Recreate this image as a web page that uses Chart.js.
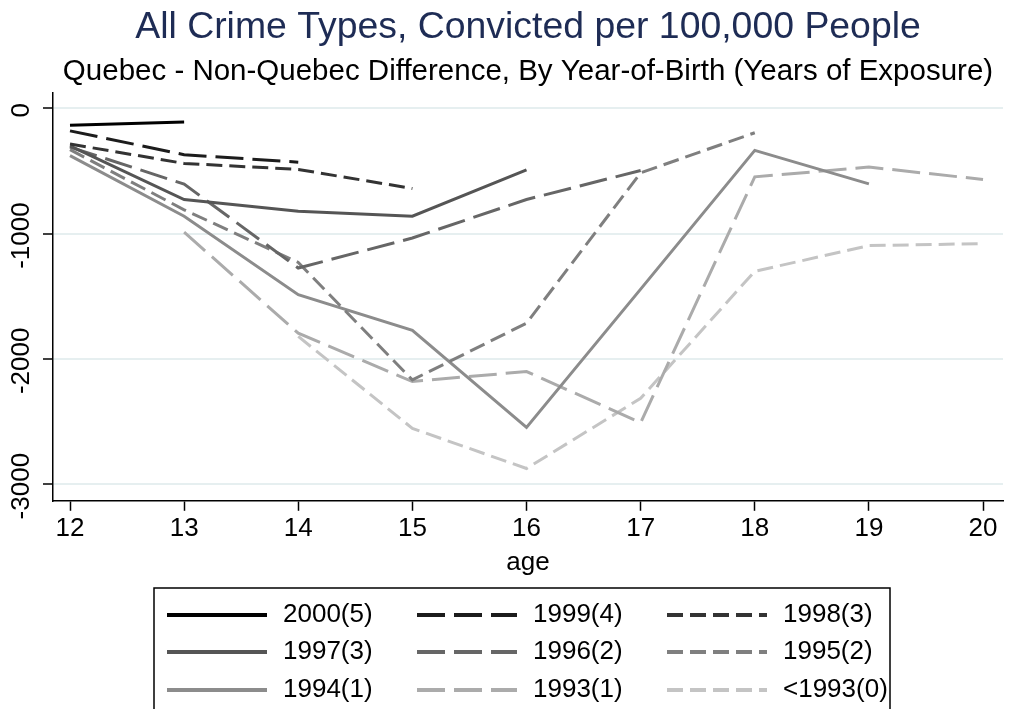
<!DOCTYPE html>
<html>
<head>
<meta charset="utf-8">
<title>All Crime Types, Convicted per 100,000 People</title>
<script src="https://cdn.jsdelivr.net/npm/chart.js@4.4.1/dist/chart.umd.min.js"></script>
<style>
    html, body { margin: 0; padding: 0; background: #fff; }
    #contenedor { width: 1010px; height: 709px; position: relative; }
</style>
</head>
<body>
<div id="contenedor"><canvas id="graficoCrimen"></canvas></div>
<script>
// age on the x axis
const edades = [12, 13, 14, 15, 16, 17, 18, 19, 20];
const ticksY = [0, -1000, -2000, -3000];

// one list per year-of-birth cohort, null where the cohort has no value
const serie2000 = [-135, -110, null, null, null, null, null, null, null];
const serie1999 = [-180, -370, -430, null, null, null, null, null, null];
const serie1998 = [-285, -440, -488, -640, null, null, null, null, null];
const serie1997 = [-300, -728, -821, -861, -491, null, null, null, null];
const serie1996 = [-310, -605, -1275, -1035, -728, -496, null, null, null];
const serie1995 = [-330, -810, -1230, -2168, -1715, -515, -195, null, null];
const serie1994 = [-378, -861, -1488, -1773, -2547, -1443, -336, -603, null];
const serie1993 = [null, -989, -1795, -2181, -2101, -2509, -547, -469, -568];
const serieAntes1993 = [null, null, -1821, -2555, -2875, -2315, -1301, -1096, -1080];

const etiquetas = ['2000(5)', '1999(4)', '1998(3)', '1997(3)', '1996(2)', '1995(2)', '1994(1)', '1993(1)', '<1993(0)'];

const FUENTE = '"Liberation Sans", Arial, sans-serif';
const LARGO = [28, 9];
const CORTO = [16, 7];

function puntos(valores) {
    return edades.map((edad, i) => ({ x: edad, y: valores[i] }));
}

function serie(etiqueta, valores, color, guion) {
    return {
        label: etiqueta,
        data: puntos(valores),
        borderColor: color,
        backgroundColor: color,
        borderWidth: 3,
        borderDash: guion,
        pointRadius: 0,
        tension: 0,
        spanGaps: false
    };
}

/**
 * Draws the rotated y tick labels and the boxed three-column legend
 */
const dibujoExtra = {
    id: 'dibujoExtra',
    afterDraw(chart) {
        const ctx = chart.ctx;
        const escalaY = chart.scales.y;

        ctx.save();
        ctx.fillStyle = '#000';
        ctx.font = '26px ' + FUENTE;
        ctx.textAlign = 'center';
        ctx.textBaseline = 'middle';
        ticksY.forEach(valor => {
            ctx.save();
            ctx.translate(22, escalaY.getPixelForValue(valor) + 2);
            ctx.rotate(-Math.PI / 2);
            ctx.fillText(String(valor), 0, 0);
            ctx.restore();
        });
        ctx.restore();

        // legend
        ctx.save();
        ctx.strokeStyle = '#000';
        ctx.lineWidth = 1.5;
        ctx.strokeRect(154, 588, 736, 130);
        const columnas = [167, 417, 667];
        const filas = [615, 652, 690];
        ctx.font = '26px ' + FUENTE;
        ctx.textBaseline = 'middle';
        ctx.textAlign = 'left';
        chart.data.datasets.forEach((ds, i) => {
            const x = columnas[i % 3];
            const y = filas[Math.floor(i / 3)];
            ctx.beginPath();
            ctx.strokeStyle = ds.borderColor;
            ctx.lineWidth = 4;
            ctx.setLineDash(ds.borderDash || []);
            ctx.moveTo(x, y);
            ctx.lineTo(x + 100, y);
            ctx.stroke();
            ctx.setLineDash([]);
            ctx.fillStyle = '#000';
            ctx.fillText(ds.label, x + 116, y);
        });
        ctx.restore();
    }
};

document.addEventListener('DOMContentLoaded', function () {
    const ctx = document.getElementById('graficoCrimen').getContext('2d');

    new Chart(ctx, {
        type: 'line',
        data: {
            datasets: [
                serie(etiquetas[0], serie2000, '#000000', []),
                serie(etiquetas[1], serie1999, '#1c1c1c', LARGO),
                serie(etiquetas[2], serie1998, '#333333', CORTO),
                serie(etiquetas[3], serie1997, '#555555', []),
                serie(etiquetas[4], serie1996, '#666666', LARGO),
                serie(etiquetas[5], serie1995, '#7f7f7f', CORTO),
                serie(etiquetas[6], serie1994, '#8c8c8c', []),
                serie(etiquetas[7], serie1993, '#ababab', LARGO),
                serie(etiquetas[8], serieAntes1993, '#c4c4c4', CORTO)
            ]
        },
        options: {
            responsive: true,
            maintainAspectRatio: false,
            animation: false,
            layout: {
                padding: { left: 53, right: 7, top: 0, bottom: 131 }
            },
            plugins: {
                legend: { display: false },
                tooltip: { enabled: false },
                title: {
                    display: true,
                    text: 'All Crime Types, Convicted per 100,000 People',
                    color: '#1e2c55',
                    font: { family: FUENTE, size: 37.4, weight: 'normal' },
                    padding: { top: 5, bottom: 4 }
                },
                subtitle: {
                    display: true,
                    text: 'Quebec - Non-Quebec Difference, By Year-of-Birth (Years of Exposure)',
                    color: '#000',
                    font: { family: FUENTE, size: 29.5, weight: 'normal' },
                    padding: { top: 0, bottom: 3 }
                }
            },
            scales: {
                x: {
                    type: 'linear',
                    min: 11.851,
                    max: 20.175,
                    afterBuildTicks: function (escala) {
                        escala.ticks = edades.map(v => ({ value: v }));
                    },
                    border: { color: '#000', width: 1.5 },
                    grid: {
                        drawOnChartArea: false,
                        drawTicks: true,
                        tickLength: 10,
                        tickColor: '#000',
                        tickWidth: 1.5
                    },
                    ticks: {
                        color: '#000',
                        padding: 5,
                        maxRotation: 0,
                        autoSkip: false,
                        font: { family: FUENTE, size: 26, lineHeight: 1 }
                    },
                    title: {
                        display: true,
                        text: 'age',
                        color: '#000',
                        font: { family: FUENTE, size: 26 },
                        padding: { top: 0, bottom: 0 }
                    }
                },
                y: {
                    min: -3133,
                    max: 128,
                    afterBuildTicks: function (escala) {
                        escala.ticks = ticksY.map(v => ({ value: v }));
                    },
                    afterFit: function (escala) {
                        escala.width = 0;
                    },
                    border: { color: '#000', width: 1.5 },
                    grid: {
                        color: '#e6eff0',
                        lineWidth: 2,
                        drawTicks: true,
                        tickLength: 10,
                        tickColor: '#000',
                        tickWidth: 1.5
                    },
                    ticks: { display: false }
                }
            }
        },
        plugins: [dibujoExtra]
    });
});
</script>
</body>
</html>
